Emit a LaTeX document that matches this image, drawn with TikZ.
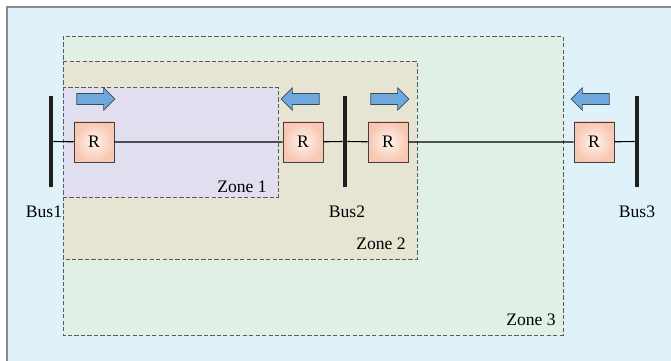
\documentclass[tikz,border=0pt]{standalone}
\usepackage{fontspec}
\setmainfont{Liberation Serif}
\usepackage{tikz}
\usetikzlibrary{shapes.arrows,positioning}
\definecolor{bgblue}{HTML}{DFF2FA}
\definecolor{framegray}{HTML}{8A8A8A}
\definecolor{zoneedge}{HTML}{5A5A5A}
\definecolor{zonethree}{HTML}{E1F0E5}
\definecolor{zonetwo}{HTML}{E6E4D3}
\definecolor{zoneone}{HTML}{E0DEEF}
\definecolor{relayedge}{HTML}{F8C7B1}
\definecolor{relaycore}{HTML}{FFF4EF}
\definecolor{pointerblue}{HTML}{6FA8DC}
\definecolor{pointeredge}{HTML}{3C4A58}

\begin{document}
\begin{tikzpicture}[
  x=0.025cm, y=-0.025cm,
  zone/.style={draw=zoneedge, dash pattern=on 3pt off 1.6pt, line width=0.7pt},
  zonelabel/.style={anchor=base east, inner sep=0pt, font=\fontsize{12.5}{14}\selectfont},
  buslabel/.style={inner sep=0pt, font=\fontsize{12.5}{14}\selectfont},
  relay/.style={draw=black!75, line width=0.6pt, inner color=relaycore, outer color=relayedge, minimum size=1cm, inner sep=0pt, font=\fontsize{12.5}{14}\selectfont},
  bus/.style={fill=black!88, minimum width=0.1cm, minimum height=2.275cm, inner sep=0pt},
  pointer/.style={single arrow, draw=pointeredge, fill=pointerblue, line width=0.5pt, inner xsep=0pt, inner ysep=0.13cm, single arrow head extend=0.14cm, minimum height=0.95cm},
  wire/.style={line width=0.8pt, black}
]
\useasboundingbox (0,0) rectangle (671,361);
\fill[bgblue] (7,7) rectangle (671,361);
\draw[framegray, line width=1.1pt] (7,361) -- (7,7) -- (671,7);

% protection zones
\draw[zone, fill=zonethree] (63,36) rectangle (563,335);
\draw[zone, fill=zonetwo] (63,61) rectangle (417,259);
\draw[zone, fill=zoneone] (63,87) rectangle (278,197);
\node[zonelabel] (zone3) at (556,325) {Zone 3};
\node[zonelabel] (zone2) at (406,249) {Zone 2};
\node[zonelabel] (zone1) at (267,192) {Zone 1};

% buses and relays
\node[bus] (bus1) at (51,141.5) {};
\node[bus] (bus2) at (345,141.5) {};
\node[bus] (bus3) at (637,141.5) {};
\node[relay] (r1) at (94,142) {R};
\node[relay] (r2) at (303,142) {R};
\node[relay] (r3) at (388,142) {R};
\node[relay] (r4) at (594,142) {R};
\draw[wire] (bus1) -- (r1) -- (r2) -- (bus2) -- (r3) -- (r4) -- (bus3);

\node[buslabel] (bus1lbl) at (44,212) {Bus1};
\node[buslabel] (bus2lbl) at (347,212) {Bus2};
\node[buslabel] (bus3lbl) at (637,212) {Bus3};

% tripping directions
\node[pointer] (dir1) at (93,99) {};
\node[pointer, shape border rotate=180] (dir2) at (303,99) {};
\node[pointer] (dir3) at (387,99) {};
\node[pointer, shape border rotate=180] (dir4) at (593,99) {};
\end{tikzpicture}
\end{document}
